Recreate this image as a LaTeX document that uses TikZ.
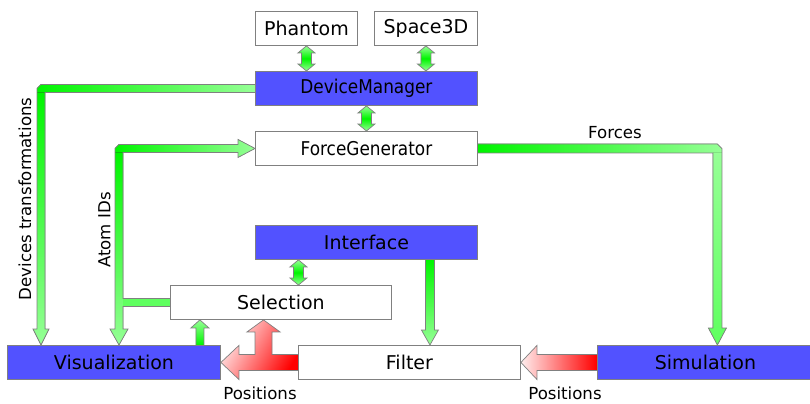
\documentclass[tikz,border=0pt]{standalone}
\usepackage{fontspec}
\setmainfont{DejaVu Sans}
\usetikzlibrary{calc}
\pgfdeclarelayer{bg}
\pgfsetlayers{bg,main}
\definecolor{boxblue}{RGB}{82,82,255}
\definecolor{edgegray}{RGB}{128,128,128}
\definecolor{gbright}{RGB}{0,245,0}
\definecolor{gmid}{RGB}{95,255,95}
\definecolor{glight}{RGB}{150,255,150}
\definecolor{rbright}{RGB}{255,0,0}
\definecolor{rlight}{RGB}{255,238,238}
\tikzset{
  box/.style={draw=edgegray, line width=0.9bp, fill=white, minimum height=34bp,
    inner sep=0pt, anchor=north west, font=\fontsize{19bp}{22bp}\selectfont, text=black},
  bluebox/.style={box, fill=boxblue},
  lbl/.style={inner sep=0pt, font=\fontsize{16.6bp}{20bp}\selectfont, text=black},
  outl/.style={draw=edgegray, line width=0.7bp, line join=miter},
}
\newcommand\dblarr[2]{%
  \path[outl, top color=glight, bottom color=glight, middle color=gbright]
    (#1) -- ($(#1)+(8.5,7)$) -- ($(#1)+(5,7)$) -- ($(#2)+(5,-7)$) -- ($(#2)+(8.5,-7)$)
    -- (#2) -- ($(#2)+(-8.5,-7)$) -- ($(#2)+(-5,-7)$) -- ($(#1)+(-5,7)$) -- ($(#1)+(-8.5,7)$) -- cycle;}
\begin{document}
\begin{tikzpicture}[x=1bp, y=-1bp]
\useasboundingbox (0,0) rectangle (810,403);
\begin{pgfonlayer}{bg}
  \fill[white] (0,0) rectangle (810,403);
\end{pgfonlayer}

% boxes
\node[box, minimum width=102bp] (ph) at (255,11) {Phantom};
\node[box, minimum width=103bp] (sp) at (374,11) {Space3D};
\node[bluebox, minimum width=222bp] (dm) at (255,71) {\scalebox{0.89}[1]{DeviceManager}};
\node[box, minimum width=222bp] (fg) at (255,131) {\scalebox{0.89}[1]{ForceGenerator}};
\node[bluebox, minimum width=222bp] (if) at (255,225) {Interface};
\node[box, minimum width=221bp] (sel) at (170,285) {Selection};
\node[bluebox, minimum width=213bp] (vis) at (7,345) {Visualization};
\node[box, minimum width=222bp] (fil) at (298,345) {Filter};
\node[bluebox, minimum width=216bp] (sim) at (597,345) {Simulation};

% labels
\node[lbl] (lforces) at (615,133) {Forces};
\node[lbl, anchor=north] (lpos1) at (260,387) {Positions};
\node[lbl, anchor=north] (lpos2) at (565,387) {Positions};
\node[lbl, rotate=90] (ldev) at (25,199) {Devices transformations};
\node[lbl, rotate=90] (latom) at (104.5,230) {Atom IDs};

% helper coordinates
\coordinate (d1t) at (ph.south);
\coordinate (d1b) at (ph.south |- dm.north);
\coordinate (d2t) at (sp.south);
\coordinate (d2b) at (sp.south |- dm.north);
\coordinate (d3t) at (dm.south);
\coordinate (d3b) at (fg.north);
\coordinate (d4t) at ($(if.south)+(-68,0)$);
\coordinate (d4b) at (d4t |- sel.north);

\coordinate (dtb) at ($(dm.west)+(-214,0)$);
\coordinate (dte) at (dtb |- vis.north);

\coordinate (aj) at ($(sel.west)+(-51,0)$);
\coordinate (at) at (aj |- fg.west);
\coordinate (ae) at (aj |- vis.north);

\coordinate (fb) at ($(fg.east)+(239.5,0)$);
\coordinate (fe) at (fb |- sim.north);

\coordinate (is) at ($(if.south)+(63.5,0)$);
\coordinate (ie) at (is |- fil.north);

\coordinate (vs) at ($(vis.north east)+(-21,0)$);
\coordinate (ve) at (vs |- sel.south);

\coordinate (rtu) at ($(sel.south west)+(93.5,0)$);
\coordinate (rtj) at (rtu |- fil.west);

\begin{pgfonlayer}{bg}
% double arrows
\dblarr{d1t}{d1b}
\dblarr{d2t}{d2b}
\dblarr{d3t}{d3b}
\dblarr{d4t}{d4b}

% Devices transformations: DeviceManager -> Visualization
\fill[left color=gbright, right color=glight]
  ($(dm.west)+(0,-4)$) -- ($(dtb)+(0,-4)$) -- ($(dtb)+(-4,0)$) -- ($(dtb)+(-4,4)$) -- ($(dm.west)+(0,4)$) -- cycle;
\fill[top color=gbright, bottom color=glight]
  ($(dtb)+(-4,4)$) -- ($(dte)+(-4,-16)$) -- ($(dte)+(-8,-16)$) -- (dte) -- ($(dte)+(8,-16)$) -- ($(dte)+(4,-16)$) -- ($(dtb)+(4,4)$) -- cycle;
\draw[outl] ($(dm.west)+(0,-4)$) -- ($(dtb)+(0,-4)$) -- ($(dtb)+(-4,0)$) -- ($(dte)+(-4,-16)$) -- ($(dte)+(-8,-16)$) -- (dte)
  -- ($(dte)+(8,-16)$) -- ($(dte)+(4,-16)$) -- ($(dtb)+(4,4)$) -- ($(dm.west)+(0,4)$);

% Atom IDs: Selection -> ForceGenerator and -> Visualization
\fill[left color=gbright, right color=glight]
  ($(at)+(0,-4)$) -- ($(fg.west)+(-17,-4)$) -- ($(fg.west)+(-17,-9)$) -- (fg.west) -- ($(fg.west)+(-17,9)$)
  -- ($(fg.west)+(-17,4)$) -- ($(at)+(-4,4)$) -- ($(at)+(-4,0)$) -- cycle;
\fill[top color=gbright, bottom color=glight]
  ($(at)+(-4,4)$) -- ($(ae)+(-4,-16)$) -- ($(ae)+(-9,-16)$) -- (ae) -- ($(ae)+(9,-16)$) -- ($(ae)+(4,-16)$) -- ($(at)+(4,4)$) -- cycle;
\fill[gmid] ($(aj)+(4,-4)$) -- ($(sel.west)+(0,-4)$) -- ($(sel.west)+(0,4)$) -- ($(aj)+(4,4)$) -- cycle;
\draw[outl] ($(sel.west)+(0,-4)$) -- ($(aj)+(4,-4)$) -- ($(at)+(4,4)$) -- ($(fg.west)+(-17,4)$) -- ($(fg.west)+(-17,9)$)
  -- (fg.west) -- ($(fg.west)+(-17,-9)$) -- ($(fg.west)+(-17,-4)$) -- ($(at)+(0,-4)$) -- ($(at)+(-4,0)$)
  -- ($(ae)+(-4,-16)$) -- ($(ae)+(-9,-16)$) -- (ae) -- ($(ae)+(9,-16)$) -- ($(ae)+(4,-16)$) -- ($(aj)+(4,4)$) -- ($(sel.west)+(0,4)$);

% Forces: ForceGenerator -> Simulation
\fill[left color=gbright, right color=glight]
  ($(fg.east)+(0,-4.5)$) -- ($(fb)+(0,-4.5)$) -- ($(fb)+(4.5,0)$) -- ($(fb)+(4.5,4.5)$) -- ($(fg.east)+(0,4.5)$) -- cycle;
\fill[top color=glight, bottom color=gmid]
  ($(fb)+(-4.5,4.5)$) -- ($(fe)+(-4.5,-17)$) -- ($(fe)+(-9,-17)$) -- (fe) -- ($(fe)+(9,-17)$) -- ($(fe)+(4.5,-17)$) -- ($(fb)+(4.5,4.5)$) -- cycle;
\draw[outl] ($(fg.east)+(0,-4.5)$) -- ($(fb)+(0,-4.5)$) -- ($(fb)+(4.5,0)$) -- ($(fe)+(4.5,-17)$) -- ($(fe)+(9,-17)$) -- (fe)
  -- ($(fe)+(-9,-17)$) -- ($(fe)+(-4.5,-17)$) -- ($(fb)+(-4.5,4.5)$) -- ($(fg.east)+(0,4.5)$);

% Interface -> Filter
\path[outl, top color=gbright, bottom color=glight]
  ($(is)+(-4.5,0)$) -- ($(ie)+(-4.5,-15)$) -- ($(ie)+(-8.5,-15)$) -- (ie) -- ($(ie)+(8.5,-15)$) -- ($(ie)+(4.5,-15)$) -- ($(is)+(4.5,0)$);

% Visualization -> Selection
\path[outl, top color=glight, bottom color=gbright]
  ($(vs)+(-4,0)$) -- ($(ve)+(-4,8)$) -- ($(ve)+(-9,8)$) -- (ve) -- ($(ve)+(9,8)$) -- ($(ve)+(4,8)$) -- ($(vs)+(4,0)$);

% Positions: Filter -> Visualization and -> Selection
\path[outl, top color=rlight, bottom color=rbright, shading angle=60]
  ($(fil.west)+(0,-8)$) -- ($(rtj)+(8.5,-8)$) -- ($(rtu)+(8.5,12)$) -- ($(rtu)+(16.5,12)$) -- (rtu)
  -- ($(rtu)+(-16.5,12)$) -- ($(rtu)+(-8.5,12)$) -- ($(rtj)+(-8.5,-8)$) -- ($(vis.east)+(18,-8)$)
  -- ($(vis.east)+(18,-17)$) -- (vis.east) -- ($(vis.east)+(18,17)$) -- ($(vis.east)+(18,8)$) -- ($(fil.west)+(0,8)$);

% Positions: Simulation -> Filter
\path[outl, left color=rlight, right color=rbright]
  ($(sim.west)+(0,-8)$) -- ($(fil.east)+(16,-8)$) -- ($(fil.east)+(16,-17)$) -- (fil.east)
  -- ($(fil.east)+(16,17)$) -- ($(fil.east)+(16,8)$) -- ($(sim.west)+(0,8)$);
\end{pgfonlayer}
\end{tikzpicture}
\end{document}
